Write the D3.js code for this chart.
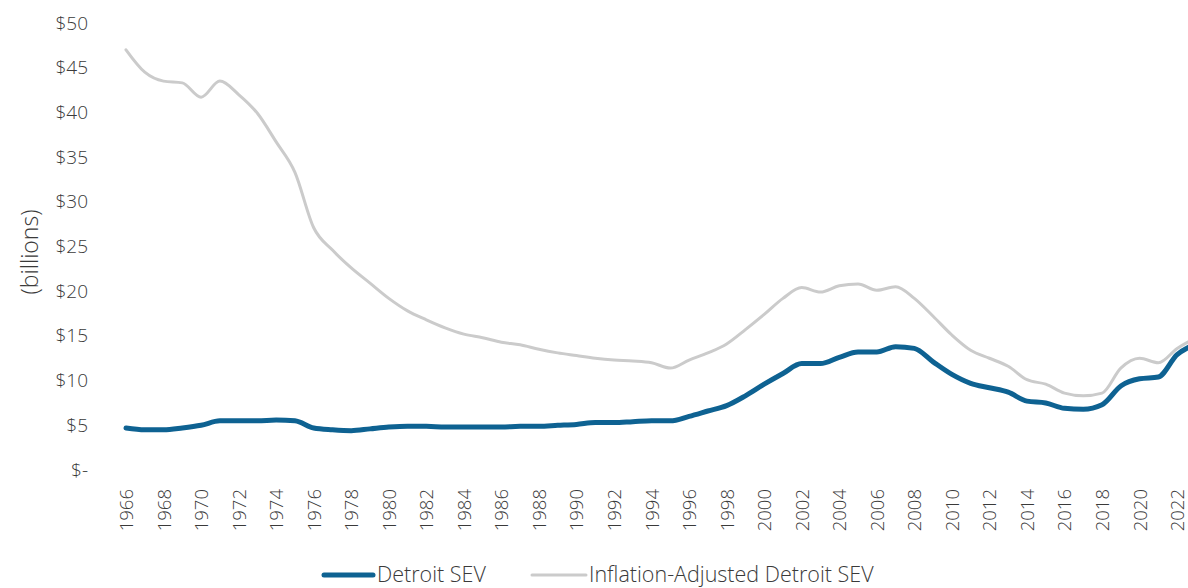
<!DOCTYPE html>
<html>
<head>
<meta charset="utf-8">
<script src="https://cdn.jsdelivr.net/npm/d3@7"></script>
<style>
  html, body { margin: 0; padding: 0; background: #fff; }
  svg { display: block; }
  text { font-family: "Open Sans", "DejaVu Sans", sans-serif; font-weight: 300; fill: #3a3a3a; }
</style>
</head>
<body>
<svg id="chart" width="1188" height="588"></svg>
<script>
// Detroit State Equalized Value (SEV), billions of dollars
const years = d3.range(1966, 2024);

const detroitSEV = [
  4.7, 4.5, 4.5, 4.7, 5.0, 5.5, 5.5, 5.5, 5.6, 5.5,
  4.7, 4.5, 4.4, 4.6, 4.8, 4.9, 4.9, 4.8, 4.8, 4.8,
  4.8, 4.9, 4.9, 5.0, 5.1, 5.3, 5.3, 5.4, 5.5, 5.5,
  6.0, 6.6, 7.2, 8.3, 9.6, 10.8, 11.9, 11.9, 12.6, 13.2,
  13.2, 13.8, 13.6, 12.1, 10.7, 9.7, 9.2, 8.7, 7.7, 7.5,
  6.9, 6.8, 7.3, 9.4, 10.2, 10.4, 12.9, 14.1
];

const inflationAdjustedSEV = [
  47.0, 44.5, 43.5, 43.3, 41.7, 43.5, 42.0, 39.9, 36.7, 33.3,
  27.1, 24.6, 22.6, 20.9, 19.2, 17.8, 16.8, 15.9, 15.2, 14.8,
  14.3, 14.0, 13.5, 13.1, 12.8, 12.5, 12.3, 12.2, 12.0, 11.4,
  12.3, 13.1, 14.1, 15.7, 17.4, 19.2, 20.4, 19.9, 20.6, 20.8,
  20.1, 20.5, 19.2, 17.2, 15.1, 13.4, 12.5, 11.6, 10.1, 9.6,
  8.6, 8.3, 8.6, 11.4, 12.5, 12.0, 13.6, 14.8
];

const yTicks = [0, 5, 10, 15, 20, 25, 30, 35, 40, 45, 50];
const xTickYears = years.filter(y => y % 2 === 0);

const seriesNames = ["Detroit SEV", "Inflation-Adjusted Detroit SEV"];
const blue = "#0e6292";
const grey = "#cbcbcb";

const svg = d3.select("#chart");

// one step per year, the final year runs off the right edge
const x = d3.scaleLinear().domain([1966, 2023]).range([126, 126 + 57 * 18.77]);
const y = d3.scaleLinear().domain([0, 50]).range([470, 23]);

// y axis labels
svg.append("g")
  .attr("transform", "translate(88,0)")
  .call(d3.axisLeft(y)
    .tickValues(yTicks)
    .tickSize(0)
    .tickPadding(0)
    .tickFormat(d => d === 0 ? "$-" : "$" + d))
  .call(g => g.select(".domain").remove())
  .selectAll("text")
  .style("font-size", "19px")
  .attr("fill", "#3a3a3a");

// y axis title
svg.append("text")
  .attr("transform", "translate(30,252) rotate(-90)")
  .attr("text-anchor", "middle")
  .attr("dy", "0.35em")
  .style("font-size", "23px")
  .text("(billions)");

// x axis labels, rotated to read upward
svg.append("g")
  .attr("transform", "translate(0,489)")
  .call(d3.axisBottom(x)
    .tickValues(xTickYears)
    .tickSize(0)
    .tickFormat(d3.format("d")))
  .call(g => g.select(".domain").remove())
  .selectAll("text")
  .style("font-size", "18.5px")
  .attr("fill", "#3a3a3a")
  .attr("text-anchor", "end")
  .attr("transform", "rotate(-90)")
  .attr("x", 0)
  .attr("y", 0)
  .attr("dy", "0.35em");

const line = d3.line()
  .x((d, i) => x(years[i]))
  .y(d => y(d))
  .curve(d3.curveMonotoneX);

svg.append("path")
  .datum(inflationAdjustedSEV)
  .attr("fill", "none")
  .attr("stroke", grey)
  .attr("stroke-width", 3)
  .attr("stroke-linejoin", "round")
  .attr("stroke-linecap", "round")
  .attr("d", line);

svg.append("path")
  .datum(detroitSEV)
  .attr("fill", "none")
  .attr("stroke", blue)
  .attr("stroke-width", 5)
  .attr("stroke-linejoin", "round")
  .attr("stroke-linecap", "round")
  .attr("d", line);

// legend
const legend = svg.append("g");
const legendY = 574;
const legendItems = [
  { name: seriesNames[0], color: blue, width: 5, x1: 324, x2: 373, tx: 377 },
  { name: seriesNames[1], color: grey, width: 3, x1: 532, x2: 586, tx: 589 }
];
legendItems.forEach(it => {
  legend.append("line")
    .attr("x1", it.x1).attr("x2", it.x2)
    .attr("y1", legendY + 1).attr("y2", legendY + 1)
    .attr("stroke", it.color)
    .attr("stroke-width", it.width)
    .attr("stroke-linecap", "round");
  legend.append("text")
    .attr("x", it.tx).attr("y", legendY)
    .attr("dy", "0.35em")
    .style("font-size", "21.5px")
    .text(it.name);
});
</script>
</body>
</html>
